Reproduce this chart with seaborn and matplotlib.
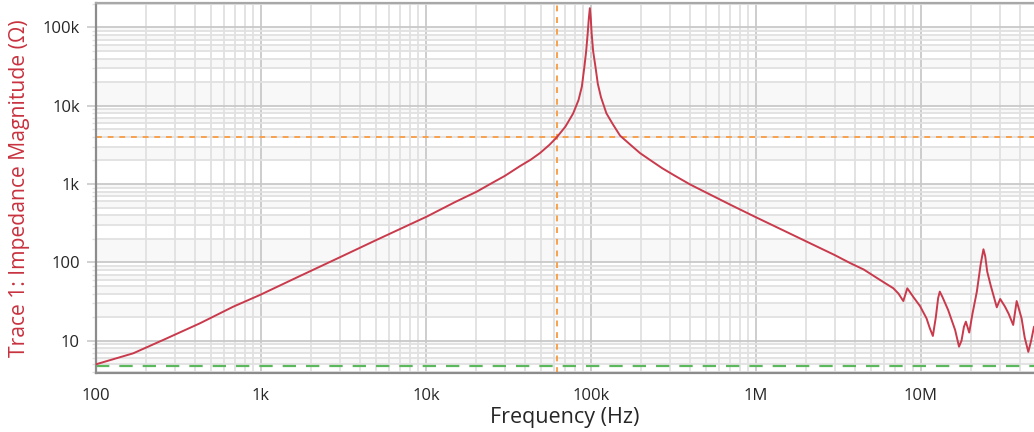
import numpy as np
import pandas as pd
import matplotlib
matplotlib.use("Agg")
import matplotlib.pyplot as plt
import matplotlib.ticker as mticker
import seaborn as sns

# ---- data ----
freq_hz = [100, 168, 268, 427, 679, 986, 1722, 3000, 5000, 10100, 15000,
           20300, 25000, 30000, 37200, 43000, 49100, 56000, 62000, 70000,
           78000, 84000, 88000, 91200, 93500, 95500, 97000, 98400,
           99700, 100900, 103000, 106400, 110000, 115000, 124000, 135000,
           150000, 175000, 198000, 228000, 270000, 320000, 398000, 500000,
           700000, 986000, 1500000, 2030000, 3000000, 3720000, 4500000,
           5650000, 6800000, 7300000, 7810000, 8260000, 9000000, 9860000,
           10800000, 11300000, 11800000, 12300000, 12700000, 13000000,
           13500000, 14600000, 16100000, 17000000, 17600000, 18200000,
           18700000, 19600000, 20500000, 21800000, 23000000, 23900000,
           24500000, 25200000, 26500000, 28800000, 30200000, 32300000,
           34000000, 36200000, 38000000, 40700000, 42500000, 44700000,
           46500000, 48400000]
impedance_ohm = [5.0, 6.9, 10.7, 16.7, 27.2, 38.4, 67, 116, 193, 384, 589,
                 800, 1026, 1269, 1700, 2040, 2490, 3170, 3950, 5420,
                 8000, 11800, 17500, 31500, 50000, 84000, 130000, 176000,
                 130000, 84000, 50000, 31500, 19000, 12800, 8000, 5900,
                 4150, 3120, 2490, 2030, 1595, 1289, 990, 777,
                 544, 382, 250, 184, 124, 98, 81,
                 59.6, 46.7, 40, 32.1, 46.7, 36, 27.7,
                 19.3, 14.5, 11.5, 20, 35, 42.3,
                 36, 24.7, 13.7, 8.4, 10, 15,
                 17.5, 12.7, 22, 42.3, 95, 147,
                 120, 76, 50, 26.7, 34.1, 27.2,
                 22, 15.9, 32.1, 19.3, 11, 7.2,
                 10, 15.1]
cursor_freq = [62000]
cursor_level = [4000]
ref_level = [4.8]
x_ticks = [100, 1e3, 1e4, 1e5, 1e6, 1e7]
x_tick_labels = ["100", "1k", "10k", "100k", "1M", "10M"]
y_ticks = [10, 100, 1e3, 1e4, 1e5]
y_tick_labels = ["10", "100", "1k", "10k", "100k"]
x_limits = (100, 48.4e6)
y_limits = (3.87, 205000)

df = pd.DataFrame({"Frequency (Hz)": freq_hz, "Impedance": impedance_ohm})

sns.set_style("white")
plt.rcParams["font.family"] = ["Open Sans", "DejaVu Sans"]

fig = plt.figure(figsize=(10.34, 4.32), dpi=100)
ax = fig.add_axes([96 / 1034, 59 / 432, 938 / 1034, 370 / 432])
ax.set_xscale("log")
ax.set_yscale("log")
ax.set_xlim(*x_limits)
ax.set_ylim(*y_limits)

# alternating faint horizontal bands between minor grid lines
levels = []
for dec in [1, 10, 100, 1e3, 1e4, 1e5]:
    for m in range(1, 10):
        levels.append(m * dec)
levels.append(1e6)
for i in range(len(levels) - 1):
    if i % 2 == 0:
        ax.axhspan(levels[i], levels[i + 1], color="#f8f8f8", lw=0, zorder=0)

# grids
ax.set_axisbelow(True)
ax.grid(which="major", axis="both", color="#c9c9c9", linewidth=1.3, zorder=0.5)
ax.grid(which="minor", axis="both", color="#e1e1e1", linewidth=1.3, zorder=0.5)

ax.xaxis.set_major_locator(mticker.FixedLocator(x_ticks))
ax.xaxis.set_major_formatter(mticker.FixedFormatter(x_tick_labels))
ax.xaxis.set_minor_locator(mticker.LogLocator(base=10, subs=np.arange(2, 10)))
ax.xaxis.set_minor_formatter(mticker.NullFormatter())
ax.yaxis.set_major_locator(mticker.FixedLocator(y_ticks))
ax.yaxis.set_major_formatter(mticker.FixedFormatter(y_tick_labels))
ax.yaxis.set_minor_locator(mticker.LogLocator(base=10, subs=np.arange(2, 10), numticks=20))
ax.yaxis.set_minor_formatter(mticker.NullFormatter())

ax.tick_params(axis="x", which="both", length=0, pad=11, labelsize=12, labelcolor="#262626")
ax.tick_params(axis="y", which="major", length=6.5, width=1.2, color="#c9c9c9",
               pad=5, labelsize=12, labelcolor="#262626", left=True)
ax.tick_params(axis="y", which="minor", length=3.2, width=1.0, color="#e1e1e1", left=True)

# cursors / reference lines
ax.axhline(cursor_level[0], color="#f7a14d", lw=1.4, ls=(0, (3, 3)), zorder=2)
ax.axvline(cursor_freq[0], color="#f7a14d", lw=1.4, ls=(0, (3, 3)), zorder=2)
ax.axhline(ref_level[0], color="#5cb85c", lw=1.6, ls=(0, (6, 4.5)), zorder=2)

sns.lineplot(data=df, x="Frequency (Hz)", y="Impedance", ax=ax, color="#c93a4c",
             linewidth=1.4, estimator=None, sort=False, zorder=3)

for side in ["left", "bottom", "top"]:
    ax.spines[side].set_visible(True)
    ax.spines[side].set_linewidth(1.6)
ax.spines["left"].set_color("#8c8c8c")
ax.spines["bottom"].set_color("#8c8c8c")
ax.spines["top"].set_color("#a8a8a8")
ax.spines["right"].set_visible(False)

ax.set_xlabel("Frequency (Hz)", fontsize=15.5, color="#262626", labelpad=2)
ax.set_ylabel("Trace 1: Impedance Magnitude (\u03a9)", fontsize=15.2, color="#c8323f")
ax.yaxis.set_label_coords(-0.070, 0.5)

fig.savefig("out.png", dpi=100)
